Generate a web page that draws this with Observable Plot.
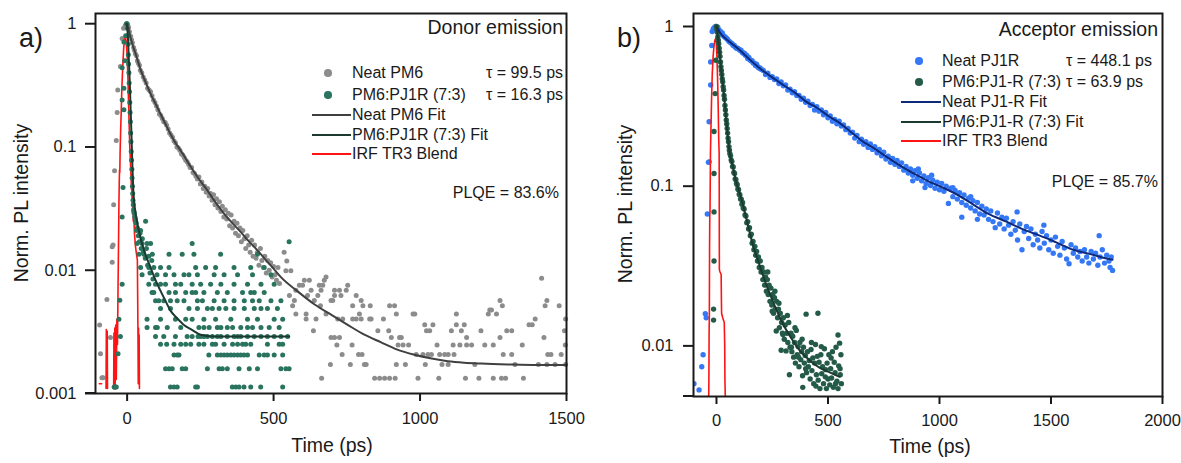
<!DOCTYPE html>
<html><head><meta charset="utf-8">
<script src="https://cdn.jsdelivr.net/npm/d3@7"></script>
<script src="https://cdn.jsdelivr.net/npm/@observablehq/plot@0.6"></script>
<style>
html,body{margin:0;padding:0;background:#fff;}
#wrap{position:relative;width:1181px;height:463px;overflow:hidden;font-family:"Liberation Sans",Arial,sans-serif;color:#1a1a1a;}
.panel{position:absolute;top:0;}
.t{position:absolute;white-space:nowrap;line-height:1;}
.sw{position:absolute;}
</style></head>
<body><div id="wrap"></div>
<script>
// ---------------- DATA ----------------
const xTicksA = [0, 500, 1000, 1500];
const xTicksB = [0, 500, 1000, 1500, 2000];
const yTicksA = [1, 0.1, 0.01, 0.001];
const yTicksB = [1, 0.1, 0.01];

// Panel a: Neat PM6 (grey points) [time ps, norm PL]
const pm6NeatRise = [[-94,0.0036],[-91,0.0021],[-86,0.00134],[-82,0.00134],[-69,0.0058],[-57,0.00285],[-51,0.0116],[-51,0.0155],[-48,0.016],[-46,0.034],[-44,0.00113],[-42,0.00113],[-43,0.064],[-37,0.113],[-34,0.19],[-32,0.29],[-23,0.45],[-17,0.76],[-12,0.92],[-6,0.97],[-2,1.0]];
const pm6NeatDecay = [[2,0.97],[5,0.93],[8,0.86],[12,0.79],[15,0.74],[18,0.70],[22,0.64],[25,0.61],[28,0.57],[32,0.55],[35,0.50],[38,0.48],[42,0.46],[45,0.42],[50,0.40],[55,0.37],[60,0.35],[65,0.33],[70,0.30],[75,0.29],[80,0.28],[85,0.26],[90,0.24],[95,0.23],[100,0.215],[105,0.20],[110,0.185],[115,0.18],[120,0.17],[125,0.16],[130,0.158],[135,0.15],[140,0.14],[145,0.13],[150,0.125],[155,0.12],[160,0.112],[165,0.108],[170,0.10],[175,0.098],[180,0.094],[185,0.088],[190,0.086],[195,0.082],[200,0.078],[205,0.076],[210,0.072],[215,0.068],[220,0.068],[225,0.062],[230,0.061],[235,0.058],[240,0.055],[245,0.057],[250,0.050],[255,0.052],[260,0.046],[265,0.048],[270,0.043],[275,0.046],[280,0.040],[285,0.042],[290,0.037],[295,0.041],[300,0.034],[305,0.038],[310,0.032],[315,0.036],[320,0.030],[325,0.033],[330,0.027],[335,0.031],[340,0.026],[345,0.029],[350,0.023],[355,0.028],[360,0.022],[365,0.025],[370,0.020],[375,0.024],[380,0.019],[385,0.022],[390,0.017],[395,0.021],[400,0.018],[405,0.015],[410,0.019],[415,0.016],[420,0.014],[425,0.0175],[430,0.013],[435,0.016],[440,0.0125],[445,0.014],[450,0.011],[455,0.015],[460,0.012],[465,0.0105],[470,0.013],[475,0.0095],[480,0.012],[485,0.010],[490,0.0115],[495,0.0088],[500,0.0107],[505,0.0092],[510,0.0083],[515,0.0105],[520,0.0078]];
// tail: [level, times at that level]
const pm6NeatTail = [
 [0.00133,[664,845,862,879,896,915,993,1064,1155,1201,1250,1278,1292,1353]],
 [0.00172,[694,762,810,816,919,950,1018,1075,1096,1187,1324,1404,1433,1461,1497]],
 [0.00207,[734,790,802,987,1010,1027,1039,1067,1084,1096,1116,1284,1313,1436,1447,1482]],
 [0.00247,[716,768,925,942,961,1058,1113,1136,1159,1176,1221,1250,1349,1496]],
 [0.00285,[696,708,725,902,930,936,1159,1273,1423]],
 [0.00323,[636,856,893,1022,1033,1107,1141,1208,1296,1313,1493]],
 [0.00362,[1016,1044,1124,1151,1372,1383]],
 [0.00402,[611,645,719,736,770,782,799,828,833,875,1393,1497]],
 [0.00441,[576,611,679,793,919,976,982,1124,1233,1261]],
 [0.00475,[1238,1244]],
 [0.00516,[565,660,770,805,830,896,913,1281,1427,1475]],
 [0.00568,[571,639,696,702,799,1273,1433]],
 [0.00624,[554,616,651,708,730,782]],
 [0.00687,[576,628,662,708,725,748]],
 [0.00756,[588,599,656,668,753]],
 [0.0083,[605,622,673]],
 [0.0086,[1415]],
 [0.0088,[679]],
 [0.0099,[542,559]],
 [0.0119,[545]],
 [0.014,[536]]
];
// Panel a: PM6:PJ1R (7:3) (green points)
const pm6BlendEarly = [[-44,0.00113],[-40,0.00113],[-37,0.00113],[-31,0.0021],[-28,0.004],[-25,0.0057],[-23,0.0029],[-17,0.0077],[-17,0.027],[-17,0.24],[-17,0.44],[-14,0.047],[-11,0.2],[-11,0.3],[-11,0.71],[-8,0.5],[-5,0.8],[-2,1.0],
 [0,1.0],[1,0.92],[2,0.8],[3,0.68],[4,0.56],[5,0.47],[6,0.4],[7,0.33],[8,0.28],[9,0.23],[10,0.19],[11,0.16],[12,0.13],[13,0.11],[14,0.092],[15,0.078],[16,0.066],[17,0.056],[18,0.048],[19,0.042],[20,0.037],[21,0.034],[22,0.031],[24,0.029],[26,0.027],[28,0.026],
 [35,0.022],[38,0.019],[42,0.017],[48,0.015],[55,0.014],[62,0.0125],[70,0.011],[78,0.0095],[88,0.0085],[31,0.024],[44,0.020],[52,0.018],[66,0.015],[74,0.013],[84,0.012]];
const pm6BlendRows = [
 [0.00113,[148,160,171,234,240,359,371,382,399,422,456,531]],
 [0.00159,[131,143,154,188,200,274,314,325,342,382,417,445,525,542,553]],
 [0.00205,[160,171,177,279,308,320,331,342,354,365,377,388,399,411,451,468,479,502,531]],
 [0.00251,[114,135,160,183,200,217,245,262,291,302,331,360,377,394,405,422,479,519,531]],
 [0.0029,[97,125,165,205,222,242,251,262,274,291,308,320,342,365,377,388,411,434,457,479,502,525,548]],
 [0.00343,[68,97,103,137,183,245,262,280,308,320,342,360,388,411,428,457,485,519]],
 [0.0040,[68,114,165,200,222,262,302,354,411,445,502,531]],
 [0.0049,[114,148,211,240,274,291,314,337,365,400,434,457,479,513]],
 [0.00565,[97,108,125,148,171,194,240,257,297,331,365,400,428,451,491,525]],
 [0.0066,[85,91,143,165,200,222,234,262,308,342,394,422,434,468]],
 [0.0077,[74,97,114,131,165,183,222,251,285,320,365,411,457,502]],
 [0.0092,[51,102,131,160,194,211,240,297,331,377,428,491]],
 [0.0105,[46,74,91,114,143,234,268,302,365,422,468]],
 [0.0135,[40,57,86,143,188,228,319,445]],
 [0.0165,[34,51,68,80,222]],
 [0.017,[553]],
 [0.021,[32,46]],
 [0.025,[29,63]],
 [0.03,[23]]
];
const pm6NeatFit = [[0,1.0],[10,0.80],[20,0.66],[30,0.56],[45,0.43],[60,0.35],[80,0.27],[103,0.21],[130,0.155],[160,0.113],[190,0.088],[217,0.069],[245,0.055],[274,0.0445],[300,0.036],[331,0.0288],[360,0.024],[388,0.0204],[415,0.0172],[445,0.0145],[479,0.0117],[500,0.0103],[525,0.0088],[580,0.0068],[639,0.0053],[700,0.0043],[753,0.0036],[810,0.0030],[867,0.0026],[920,0.00228],[981,0.00206],[1040,0.00192],[1095,0.00183],[1150,0.00178],[1209,0.00175],[1300,0.00172],[1400,0.0017],[1500,0.0017]];
const pm6BlendFit = [[-2,1.0],[3,0.75],[6,0.5],[9,0.33],[12,0.2],[15,0.12],[18,0.07],[21,0.045],[25,0.034],[30,0.028],[38,0.022],[45,0.0185],[60,0.014],[80,0.0105],[100,0.008],[114,0.0068],[130,0.0057],[148,0.0047],[170,0.0041],[194,0.0036],[220,0.0033],[251,0.003],[300,0.0029],[400,0.0029],[500,0.0029],[553,0.0029]];
const irfA = [[-95,0.0012],[-87,0.0012],[null,null],
 [-72,0.0011],[-71,0.0033],[-70,0.0012],[-68,0.0032],[-67,0.0011],[null,null],
 [-46,0.0011],[-45,0.0031],[-44,0.0012],[-42,0.0034],[-41,0.0011],[-39,0.0036],[-37,0.0013],[-35,0.004],[-33,0.0025],[-31,0.0075],[-30,0.012],[-29,0.02],[-28,0.035],[-27,0.05],[-26,0.065],[-25,0.062],[-24,0.09],[-22,0.14],[-20,0.2],[-18,0.3],[-15,0.45],[-12,0.62],[-9,0.74],[-6,0.78],[-3,0.72],[0,0.55],[3,0.35],[5,0.22],[7,0.15],[9,0.1],[11,0.08],[13,0.06],[15,0.045],[16,0.06],[17,0.035],[18,0.05],[19,0.03],[20,0.04],[21,0.025],[23,0.028],[25,0.02],[28,0.016],[31,0.014],[33,0.013],[35,0.012],[36,0.006],[37,0.003],[38,0.0012],[39,0.0034],[40,0.0012],[41,0.003],[42,0.0011]];

// Panel b: Neat PJ1R (blue points)
const pj1rNeat = [[-101,0.0058],[-78,0.0053],[-66,0.0074],[-60,0.0088],[-50,0.0159],[-46,0.015],[-41,0.067],[-36,0.141],[-33,0.253],[-33,0.142],[-26,0.43],[-26,0.6],[-21,0.76],[-19,0.93],[-14,0.97],[-8,0.99],[-3,1.0],
 [2,0.98],[6,0.99],[10,0.95],[14,0.94],[18,0.93],[22,0.9],[26,0.91],[30,0.88],[34,0.87],[38,0.86],[42,0.85],[46,0.84],[50,0.83],[55,0.81],[60,0.8],[65,0.79],[70,0.78],[75,0.76],[80,0.76],[85,0.74],[90,0.73],[95,0.73],[100,0.72],
 [105,0.71],[110,0.71],[115,0.69],[120,0.68],[125,0.68],[130,0.66],[135,0.66],[140,0.63],[145,0.64],[150,0.62],[155,0.61],[160,0.61],[165,0.59],[170,0.59],[175,0.57],[180,0.58],[185,0.56],[190,0.55],[195,0.55],[200,0.54],
 [210,0.53],[220,0.5],[230,0.51],[240,0.48],[250,0.485],[260,0.465],[270,0.47],[280,0.44],[290,0.45],[300,0.425],[310,0.43],[320,0.4],[330,0.405],[340,0.385],[350,0.39],[360,0.37],[370,0.37],[380,0.35],[390,0.355],[400,0.335],
 [410,0.34],[420,0.32],[430,0.325],[440,0.3],[450,0.315],[460,0.295],[470,0.3],[480,0.28],[490,0.29],[500,0.268],[510,0.275],[520,0.255],[530,0.262],[540,0.246],[550,0.255],[560,0.238],[570,0.242],[580,0.226],[590,0.23],[600,0.215],
 [610,0.218],[620,0.2],[630,0.208],[640,0.19],[650,0.197],[660,0.183],[670,0.19],[680,0.175],[690,0.184],[700,0.17],[710,0.177],[720,0.162],[730,0.17],[740,0.155],[750,0.163],[760,0.148],[770,0.154],[780,0.141],[790,0.149],[800,0.137],
 [810,0.145],[820,0.133],[830,0.14],[840,0.126],[850,0.133],[860,0.121],[870,0.128],[880,0.117],[890,0.125],[900,0.112],[910,0.121],[920,0.108],[930,0.116],[940,0.104],[950,0.113],[960,0.101],[970,0.109],[980,0.097],[990,0.106],[1000,0.095],[905,0.128],[935,0.098],[965,0.117],[880,0.108],
 [1010,0.104],[1020,0.093],[1030,0.1],[1040,0.078],[1050,0.097],[1060,0.086],[1070,0.094],[1080,0.083],[1090,0.091],[1100,0.079],[1110,0.088],[1120,0.076],[1130,0.084],[1140,0.073],[1150,0.081],[1160,0.07],[1170,0.079],[1180,0.067],[1190,0.075],[1200,0.066],[1100,0.064],[1170,0.062],[1140,0.086],[1060,0.098],
 [1210,0.072],[1220,0.062],[1230,0.07],[1240,0.06],[1250,0.055],[1260,0.068],[1270,0.058],[1280,0.064],[1290,0.054],[1300,0.063],[1310,0.057],[1320,0.05],[1330,0.06],[1340,0.053],[1348,0.069],[1350,0.046],[1360,0.058],[1370,0.04],[1380,0.052],[1390,0.056],[1400,0.047],
 [1410,0.054],[1420,0.043],[1430,0.05],[1440,0.046],[1450,0.041],[1460,0.052],[1468,0.057],[1470,0.044],[1480,0.049],[1490,0.04],[1500,0.046],[1510,0.038],[1520,0.048],[1530,0.042],[1540,0.037],[1550,0.045],[1560,0.041],[1570,0.035],[1581,0.0327],[1590,0.043],[1600,0.038],
 [1610,0.041],[1620,0.036],[1630,0.039],[1640,0.034],[1650,0.04],[1660,0.036],[1670,0.033],[1680,0.039],[1690,0.035],[1700,0.038],[1710,0.032],[1716,0.049],[1720,0.036],[1730,0.04],[1740,0.033],[1750,0.037],[1760,0.034],[1765,0.031],[1770,0.036],[1776,0.0297]];
// Panel b: PM6:PJ1-R (7:3) (green points)
const pj1rBlend = [[-13,0.0145],[-13,0.017],[-11,0.034],[-11,0.069],[-11,0.12],[-11,0.22],[-6,0.38],[-3,0.615],
 [0,1.0],[2,0.96],[4,0.92],[6,0.86],[8,0.82],[10,0.78],[12,0.73],[14,0.69],[16,0.65],[18,0.6],[20,0.56],[22,0.53],[24,0.5],[26,0.47],[28,0.45],[30,0.42],[32,0.4],[34,0.37],[36,0.35],[38,0.32],[40,0.3],[42,0.28],[44,0.26],[46,0.245],[48,0.23],[50,0.215],[52,0.2],[54,0.19],[56,0.177],[58,0.168],[60,0.16],
 [63,0.155],[66,0.146],[69,0.143],[72,0.133],[75,0.132],[78,0.122],[81,0.12],[84,0.111],[87,0.11],[90,0.104],[93,0.102],[96,0.096],[99,0.095],[102,0.089],[105,0.088],[108,0.083],[111,0.083],[114,0.077],[117,0.079],[120,0.073],[124,0.072],[128,0.066],[132,0.065],[136,0.059],[140,0.06],[144,0.054],[148,0.055],[152,0.049],[156,0.05],[160,0.044],[164,0.045],[168,0.04],[172,0.042],[176,0.037],[180,0.039],[184,0.034],[188,0.036],[192,0.031],[196,0.034],[200,0.029],
 [204,0.031],[208,0.026],[212,0.029],[216,0.024],[220,0.027],[224,0.022],[228,0.026],[232,0.021],[236,0.024],[240,0.019],[244,0.023],[248,0.018],[252,0.021],[256,0.016],[260,0.02],[264,0.017],[268,0.0124],[270,0.019],[274,0.015],[278,0.017],[282,0.013],[286,0.016],[290,0.0094],[292,0.014],[296,0.012],[300,0.015],[304,0.011],[308,0.0135],[312,0.0093],[316,0.012],[320,0.0105],[324,0.014],[327,0.0066],[330,0.0098],[334,0.012],[338,0.0092],[342,0.0115],[346,0.0085],[350,0.0105],[354,0.0078],[358,0.0125],[362,0.0088],[366,0.0099],[370,0.0074],[374,0.0105],[378,0.0082],[382,0.0092],[386,0.0065],[387,0.0055],[390,0.0098],[394,0.0078],[398,0.0087],[402,0.0158],[404,0.0068],[408,0.0092],[412,0.0074],[416,0.0081],[420,0.0062],[424,0.0095],[428,0.007],[432,0.0084],[436,0.0058],[440,0.0078],[444,0.0102],[448,0.0066],[452,0.0086],[455,0.016],[456,0.0061],[460,0.0079],[464,0.0054],[468,0.0088],[472,0.0067],[476,0.0074],[480,0.0058],[484,0.0096],[488,0.0064],[493,0.0054],[496,0.0078],[500,0.0062],[504,0.0088],[508,0.0057],[512,0.0072],[516,0.0063],[520,0.0092],[524,0.0055],[528,0.0079],[532,0.0068],[536,0.0098],[540,0.006],[545,0.0117],[545,0.0054],[548,0.0075],[552,0.0104],[555,0.0066],[558,0.0088],[560,0.0058],
 [230,0.029],[250,0.0165],[262,0.022],[280,0.0185],[298,0.0118],[318,0.0155],[336,0.0098],[352,0.013],[368,0.0085],[384,0.011],[400,0.0072],[426,0.0105],[446,0.0056],[470,0.0099],[490,0.0071],[514,0.0084],[534,0.0058],[554,0.0072]];
const pj1rNeatFit = [[0,1.0],[20,0.9],[50,0.82],[100,0.72],[150,0.62],[207,0.53],[250,0.48],[300,0.43],[357,0.38],[400,0.34],[450,0.31],[507,0.272],[550,0.25],[600,0.22],[657,0.19],[700,0.175],[750,0.157],[808,0.139],[850,0.128],[900,0.117],[958,0.106],[1000,0.1],[1070,0.09],[1150,0.077],[1220,0.067],[1300,0.06],[1370,0.054],[1450,0.049],[1521,0.0446],[1600,0.04],[1671,0.0377],[1730,0.0358],[1776,0.0346]];
const pj1rBlendFit = [[0,1.0],[10,0.78],[20,0.56],[27,0.46],[40,0.3],[57,0.17],[75,0.13],[87,0.108],[100,0.094],[117,0.078],[140,0.058],[162,0.0436],[190,0.033],[222,0.0245],[260,0.018],[297,0.0138],[335,0.0112],[372,0.0094],[415,0.0082],[462,0.0073],[510,0.0068],[552,0.0064]];
const irfB = [[-35,0.0045],[-34,0.006],[-33,0.012],[-32,0.015],[-31,0.04],[-30,0.065],[-29,0.07],[-28,0.1],[-27,0.16],[-25,0.22],[-22,0.35],[-19,0.5],[-15,0.65],[-11,0.76],[-7,0.82],[-4,0.84],[-1,0.8],[2,0.65],[5,0.47],[8,0.3],[10,0.2],[12,0.16],[12.5,0.08],[13,0.03],[16,0.029],[21,0.028],[22,0.02],[23,0.016],[28,0.015],[35,0.014],[37,0.01],[38,0.006],[40,0.0045]];

const legendA = ["Neat PM6","PM6:PJ1R (7:3)","Neat PM6 Fit","PM6:PJ1R (7:3) Fit","IRF TR3 Blend"];
const legendB = ["Neat PJ1R","PM6:PJ1-R (7:3)","Neat PJ1-R Fit","PM6:PJ1-R (7:3) Fit","IRF TR3 Blend"];
const tausA = ["τ = 99.5 ps","τ = 16.3 ps"];
const tausB = ["τ = 448.1 ps","τ = 63.9 ps"];

// ---------------- STYLE ----------------
const C = {grey:"#8c8c8c", greenA:"#2a735e", greenB:"#245a48", blue:"#3478f6",
  fitGrey:"#404040", fitGreen:"#1c3b30", fitBlue:"#0d2a7a", red:"#ff1414", ink:"#1a1a1a"};

const pm6Neat = [...pm6NeatRise, ...pm6NeatDecay, ...pm6NeatTail.flatMap(([v, ts]) => ts.map(t => [t, v]))];
const pm6Blend = [...pm6BlendEarly, ...pm6BlendRows.flatMap(([v, ts]) => ts.map(t => [t, v]))];

const X = d => d[0], Y = d => d[1];
const fmt = d => String(d);
const baseStyle = {fontFamily:'"Liberation Sans", Arial, sans-serif', fontSize:"16.5px", color:C.ink, background:"transparent", overflow:"visible"};

const plotA = Plot.plot({
  width: 590, height: 463, marginLeft: 95, marginRight: 24, marginTop: 13, marginBottom: 70,
  style: baseStyle,
  x: {domain: [-108, 1500], label: null},
  y: {type: "log", domain: [0.001, 1.21], label: null},
  marks: [
    Plot.dot(pm6Neat, {x: X, y: Y, r: 2.5, fill: C.grey}),
    Plot.line(irfA, {x: X, y: Y, stroke: C.red, strokeWidth: 1.6, clip: true}),
    Plot.dot(pm6Blend, {x: X, y: Y, r: 2.5, fill: C.greenA}),
    Plot.line(pm6NeatFit, {x: X, y: Y, stroke: C.fitGrey, strokeWidth: 2, curve: "monotone-x"}),
    Plot.line(pm6BlendFit, {x: X, y: Y, stroke: C.fitGreen, strokeWidth: 2, curve: "monotone-x"}),
    Plot.frame({stroke: C.ink, strokeWidth: 2}),
    Plot.axisX({ticks: xTicksA, tickFormat: fmt, tickSize: 8, tickPadding: 11, strokeWidth: 2, label: null, fontSize: 16.5}),
    Plot.axisY({ticks: yTicksA, tickFormat: fmt, tickSize: 10, tickPadding: 9, strokeWidth: 2, label: null, fontSize: 16.5})
  ]
});
const plotB = Plot.plot({
  width: 591, height: 463, marginLeft: 103, marginRight: 19, marginTop: 13, marginBottom: 67,
  style: baseStyle,
  x: {domain: [-103, 2000], label: null},
  y: {type: "log", domain: [0.00482, 1.206], label: null},
  marks: [
    Plot.dot(pj1rNeat, {x: X, y: Y, r: 2.7, fill: C.blue, clip: true}),
    Plot.line(irfB, {x: X, y: Y, stroke: C.red, strokeWidth: 1.6, clip: true}),
    Plot.dot(pj1rBlend, {x: X, y: Y, r: 2.7, fill: C.greenB, clip: true}),
    Plot.line(pj1rNeatFit, {x: X, y: Y, stroke: C.fitBlue, strokeWidth: 2, curve: "monotone-x"}),
    Plot.line(pj1rBlendFit, {x: X, y: Y, stroke: C.fitGreen, strokeWidth: 2, curve: "monotone-x"}),
    Plot.frame({stroke: C.ink, strokeWidth: 2}),
    Plot.axisX({ticks: xTicksB, tickFormat: fmt, tickSize: 8, tickPadding: 10, strokeWidth: 2, label: null, fontSize: 16.5}),
    Plot.axisY({ticks: yTicksB, tickFormat: fmt, tickSize: 10, tickPadding: 10, strokeWidth: 2, label: null, fontSize: 16.5})
  ]
});

const wrap = document.getElementById("wrap");
function place(node, left) { const d = document.createElement("div"); d.className = "panel"; d.style.left = left + "px"; d.appendChild(node); wrap.appendChild(d); }
place(plotA, 0);
place(plotB, 590);

function text(str, o) {
  const d = document.createElement("div"); d.className = "t"; d.textContent = str;
  const fs = o.fs || 16; d.style.fontSize = fs + "px";
  d.style.top = (o.cy - fs / 2) + "px";
  if (o.right != null) d.style.right = (1181 - o.right) + "px"; else d.style.left = o.left + "px";
  if (o.rot) { d.style.left = (o.cx) + "px"; d.style.top = (o.cy) + "px"; d.style.transform = "translate(-50%,-50%) rotate(-90deg)"; }
  if (o.center) { d.style.left = o.cx + "px"; d.style.transform = "translateX(-50%)"; }
  wrap.appendChild(d); return d;
}
function dotSw(cx, cy, col) { const d = document.createElement("div"); d.className = "sw"; Object.assign(d.style, {left:(cx-3.8)+"px", top:(cy-3.8)+"px", width:"7.6px", height:"7.6px", borderRadius:"50%", background:col}); wrap.appendChild(d); }
function lineSw(x1, x2, cy, col) { const d = document.createElement("div"); d.className = "sw"; Object.assign(d.style, {left:x1+"px", top:(cy-1)+"px", width:(x2-x1)+"px", height:"2px", background:col}); wrap.appendChild(d); }

// axis line extension to the left of the y axis (Igor-style)
lineSw(85, 96, 393, C.ink);
lineSw(683, 694, 396, C.ink);

// panel labels & titles
text("a)", {left: 19, cy: 38, fs: 27});
text("b)", {left: 617, cy: 38, fs: 27});
text("Donor emission", {right: 563, cy: 27.5, fs: 19.5});
text("Acceptor emission", {right: 1158, cy: 29.5, fs: 19.5});
text("Norm. PL intensity", {rot: true, cx: 22, cy: 203, fs: 19.5});
text("Norm. PL intensity", {rot: true, cx: 626, cy: 204, fs: 19.5});
text("Time (ps)", {center: true, cx: 332, cy: 446, fs: 19.5});
text("Time (ps)", {center: true, cx: 930, cy: 447, fs: 19.5});

// legend a
const rowsA = [73, 95, 115, 135, 154];
dotSw(328, rowsA[0], C.grey); dotSw(328, rowsA[1], C.greenA);
lineSw(312, 351, rowsA[2], C.fitGrey); lineSw(312, 351, rowsA[3], C.fitGreen); lineSw(312, 351, rowsA[4], C.red);
legendA.forEach((s, i) => text(s, {left: 352, cy: rowsA[i]}));
tausA.forEach((s, i) => text(s, {left: 486, cy: rowsA[i]}));
text("PLQE = 83.6%", {right: 559, cy: 193});

// legend b
const rowsB = [61, 82, 102, 122, 141];
dotSw(919, rowsB[0], C.blue); dotSw(919, rowsB[1], C.greenB);
lineSw(901, 941, rowsB[2], C.fitBlue); lineSw(901, 941, rowsB[3], C.fitGreen); lineSw(901, 941, rowsB[4], C.red);
legendB.forEach((s, i) => text(s, {left: 942, cy: rowsB[i]}));
tausB.forEach((s, i) => text(s, {left: 1066, cy: rowsB[i]}));
text("PLQE = 85.7%", {right: 1158, cy: 182});
</script></body></html>
